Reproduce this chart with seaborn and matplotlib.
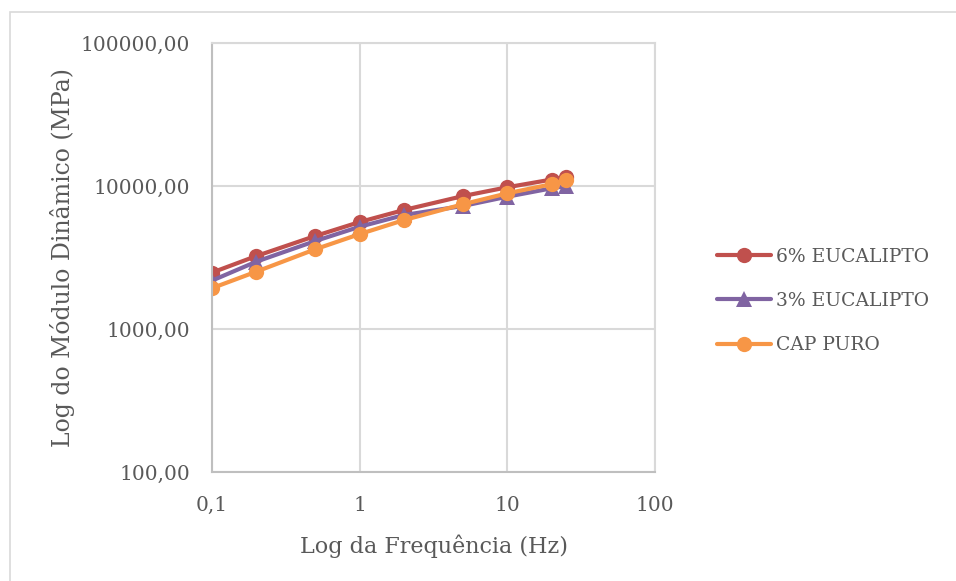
import matplotlib
matplotlib.use("Agg")
import matplotlib.pyplot as plt
import seaborn as sns
import pandas as pd
from matplotlib.ticker import FixedLocator, FixedFormatter, NullLocator
from matplotlib.patches import Rectangle

# ---- data ----
freq = [0.1, 0.2, 0.5, 1, 2, 5, 10, 20, 25]
eucalipto_6 = [2480, 3240, 4470, 5600, 6800, 8500, 9800, 11100, 11500]
eucalipto_3 = [2180, 2960, 4120, 5190, 6270, 7250, 8420, 9640, 10000]
cap_puro = [1930, 2520, 3610, 4610, 5780, 7450, 8890, 10300, 11000]
series_names = ["6% EUCALIPTO", "3% EUCALIPTO", "CAP PURO"]

x_ticks = [0.1, 1, 10, 100]
x_tick_labels = ["0,1", "1", "10", "100"]
y_ticks = [100, 1000, 10000, 100000]
y_tick_labels = ["100,00", "1000,00", "10000,00", "100000,00"]

xlabel = "Log da Frequência (Hz)"
ylabel = "Log do Módulo Dinâmico (MPa)"

df = pd.DataFrame({
    "freq": freq * 3,
    "mod": eucalipto_6 + eucalipto_3 + cap_puro,
    "serie": [series_names[0]] * len(freq) + [series_names[1]] * len(freq) + [series_names[2]] * len(freq),
})

sns.set_theme(style="white")
plt.rcParams["font.family"] = ["DejaVu Serif"]
text_color = "#595959"
grid_color = "#d9d9d9"

fig = plt.figure(figsize=(9.56, 5.81), dpi=100)
fig.patch.set_facecolor("white")
fig.add_artist(Rectangle((10 / 956, -0.05), 1.2, 1 - 12 / 581 + 0.05,
                         transform=fig.transFigure, fill=False,
                         edgecolor=grid_color, linewidth=1.2))

ax = fig.add_axes([212 / 956, 1 - 472 / 581, (655 - 212) / 956, (472 - 43) / 581])

palette = {series_names[0]: "#C0504D", series_names[1]: "#8064A2", series_names[2]: "#F79646"}
markers = {series_names[0]: "o", series_names[1]: "^", series_names[2]: "o"}

sns.lineplot(data=df, x="freq", y="mod", hue="serie", style="serie",
             hue_order=series_names, style_order=series_names,
             palette=palette, markers=markers, dashes=False,
             linewidth=3, markersize=11, markeredgewidth=0, ax=ax)

ax.set_xscale("log")
ax.set_yscale("log")
ax.set_xlim(0.1, 100)
ax.set_ylim(100, 100000)
ax.xaxis.set_major_locator(FixedLocator(x_ticks))
ax.xaxis.set_major_formatter(FixedFormatter(x_tick_labels))
ax.yaxis.set_major_locator(FixedLocator(y_ticks))
ax.yaxis.set_major_formatter(FixedFormatter(y_tick_labels))
ax.xaxis.set_minor_locator(NullLocator())
ax.yaxis.set_minor_locator(NullLocator())

ax.grid(True, which="major", color=grid_color, linewidth=1.5)
ax.set_axisbelow(True)
for s in ax.spines.values():
    s.set_color(grid_color)
    s.set_linewidth(1.5)
ax.spines["bottom"].set_color("#bfbfbf")
ax.spines["left"].set_color("#bfbfbf")

ax.tick_params(axis="both", length=0, labelsize=14.5, labelcolor=text_color)
ax.tick_params(axis="y", pad=16)
ax.tick_params(axis="x", pad=17)

ax.set_xlabel(xlabel, fontsize=16, color=text_color, labelpad=14)
ax.set_ylabel(ylabel, fontsize=17, color=text_color, labelpad=4)

ax.legend_.remove()
handles, labels = ax.get_legend_handles_labels()
leg = fig.legend(handles, labels, loc="center left",
                 bbox_to_anchor=(700 / 956, 1 - 301 / 581),
                 frameon=False, fontsize=13.5, handlelength=2.9,
                 handletextpad=0.25, labelspacing=1.4)
for t in leg.get_texts():
    t.set_color(text_color)

fig.savefig("out.png", dpi=100)
